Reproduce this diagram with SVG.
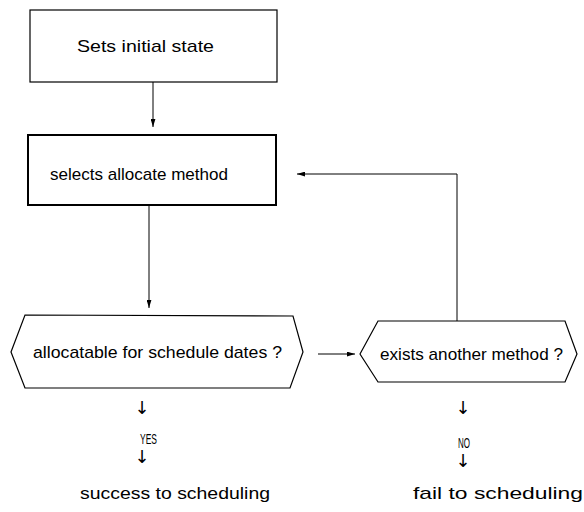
<svg xmlns="http://www.w3.org/2000/svg" width="584" height="512" viewBox="0 0 584 512">
<style>
.box{fill:#fff;stroke:#000;stroke-width:1.2}
.thick{stroke-width:2}
.conn{fill:none;stroke:#000;stroke-width:1}
text{font-family:"Liberation Sans",Arial,sans-serif;font-size:17px;fill:#000}
.arr{font-family:"DejaVu Sans",sans-serif;font-size:18px}
.sm{font-size:14px}
</style>
<defs>
<marker id="ah" viewBox="0 0 10 6" refX="10" refY="3" markerWidth="8" markerHeight="5" orient="auto" markerUnits="userSpaceOnUse">
<path d="M0,0 L10,3 L0,6 Z" fill="#000"/>
</marker>
</defs>
<rect width="584" height="512" fill="#fff"/>
<g id="n1">
<rect class="box" x="30" y="10" width="247" height="72"/>
<text x="77" y="52" textLength="137" lengthAdjust="spacingAndGlyphs">Sets initial state</text>
</g>
<g id="n2">
<rect class="box thick" x="28" y="135" width="248" height="70"/>
<text x="50" y="180" textLength="178" lengthAdjust="spacingAndGlyphs">selects allocate method</text>
</g>
<g id="n3">
<polygon class="box" points="11,352 25,315 293,316 303,352 290,388 25,388"/>
<text x="33" y="358" textLength="249" lengthAdjust="spacingAndGlyphs">allocatable for schedule dates ?</text>
</g>
<g id="n4">
<polygon class="box" points="360,354 378,321 565,321 577,354 565,382 378,382"/>
<text x="380" y="360" textLength="183" lengthAdjust="spacingAndGlyphs">exists another method ?</text>
</g>
<g id="yes">
<text class="arr" x="142" y="414" text-anchor="middle">↓</text>
<text class="sm" x="140" y="444" textLength="17" lengthAdjust="spacingAndGlyphs">YES</text>
<text class="arr" x="142" y="463" text-anchor="middle">↓</text>
<text x="80" y="499" textLength="190" lengthAdjust="spacingAndGlyphs">success to scheduling</text>
</g>
<g id="no">
<text class="arr" x="463" y="414" text-anchor="middle">↓</text>
<text class="sm" x="458" y="448" textLength="12" lengthAdjust="spacingAndGlyphs">NO</text>
<text class="arr" x="463" y="467" text-anchor="middle">↓</text>
<text x="413" y="499" textLength="170" lengthAdjust="spacingAndGlyphs">fail to scheduling</text>
</g>
<g id="connectors">
<path class="conn" d="M153,82 L153,127" marker-end="url(#ah)"/>
<path class="conn" d="M149,205 L149,308" marker-end="url(#ah)"/>
<path class="conn" d="M318,354 L355,354" marker-end="url(#ah)"/>
<path class="conn" d="M457,321 L457,174 L297,174" marker-end="url(#ah)"/>
</g>
</svg>
